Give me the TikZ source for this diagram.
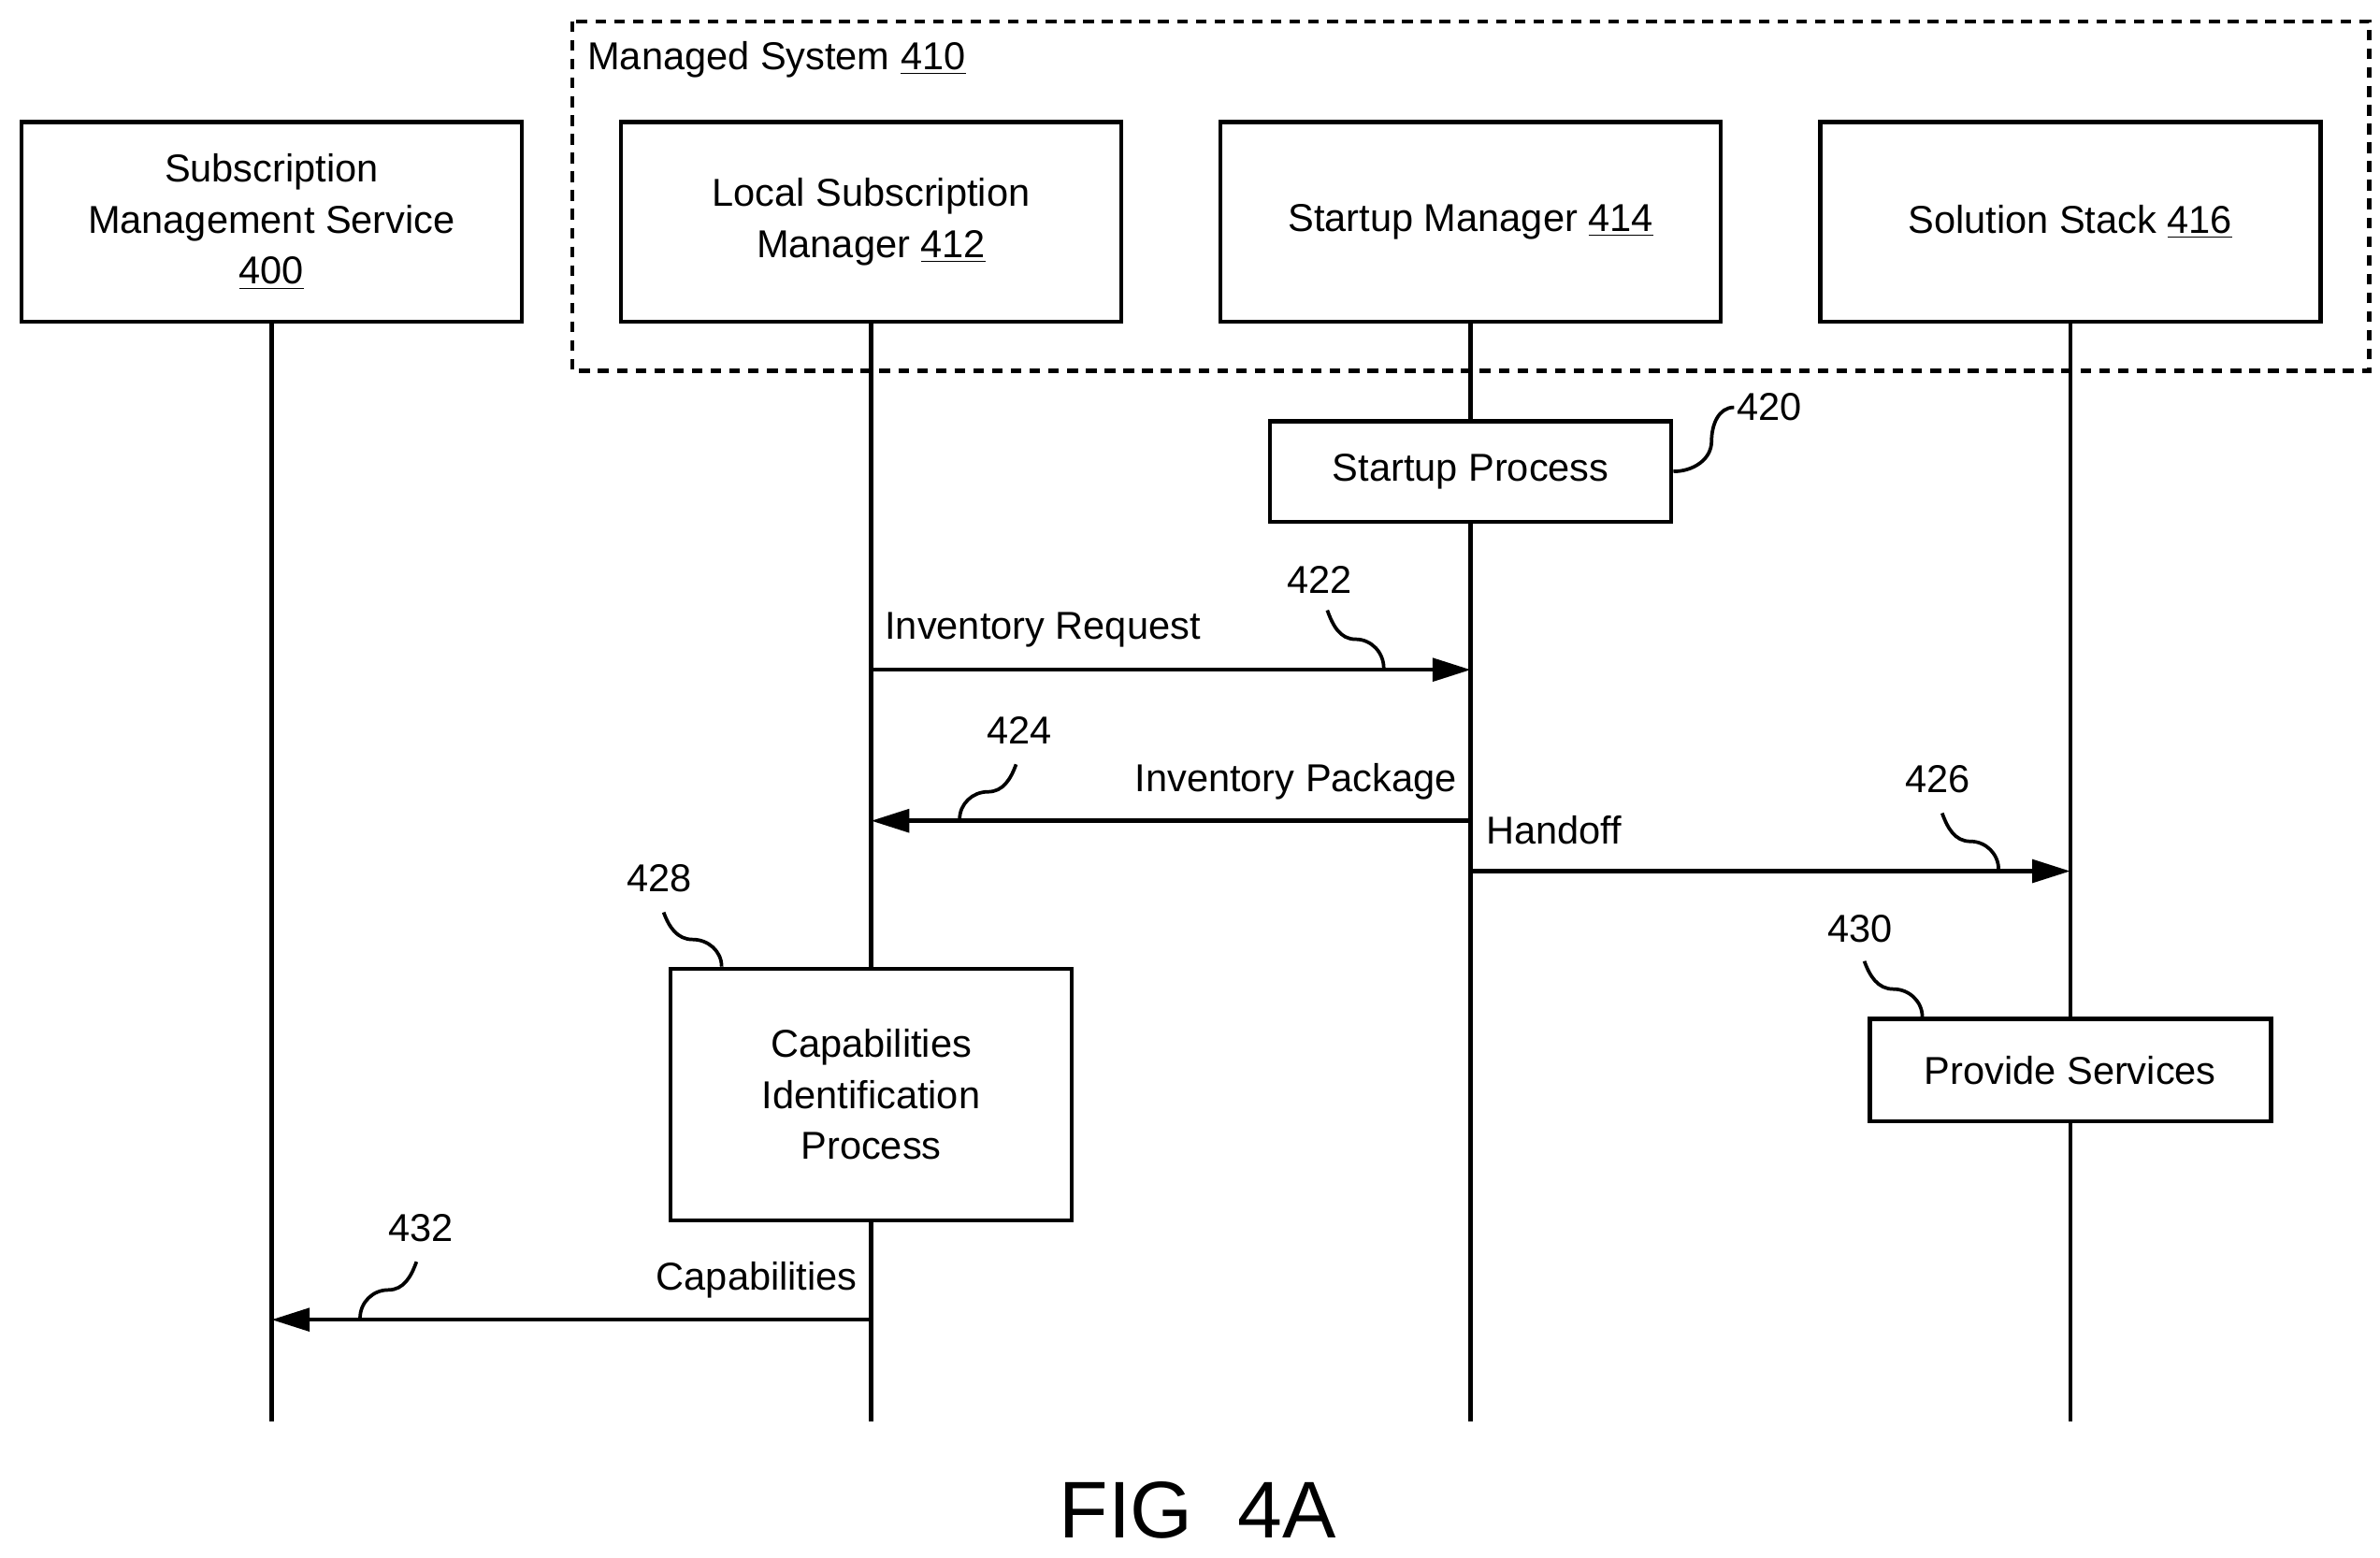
\documentclass[tikz,border=0pt]{standalone}
\usepackage{fontspec}
\setmainfont{Liberation Sans}
\usetikzlibrary{arrows.meta,positioning,calc}

\tikzset{
  actor/.style={draw, line width=1.6pt, minimum width=6.56cm, minimum height=2.62cm, align=center, font=\fontsize{14.5}{19}\selectfont},
  proc/.style={draw, line width=1.6pt, minimum width=5.26cm, align=center, font=\fontsize{14.5}{19}\selectfont},
  life/.style={line width=1.6pt},
  msg/.style={line width=1.6pt, -{Triangle[length=0.5cm,width=0.3cm]}},
  lbl/.style={font=\fontsize{14.5}{16}\selectfont, inner sep=1pt},
  lead/.style={line width=1.3pt}
}
% S-shaped leader, right-going and left-going
\newcommand{\leadr}[2]{\draw[lead] (#1) to[out=-70,in=180] ($(#1)!0.5!(#2)$) to[out=0,in=90] (#2);}
\newcommand{\leadl}[2]{\draw[lead] (#1) to[out=-110,in=0] ($(#1)!0.5!(#2)$) to[out=180,in=90] (#2);}

\begin{document}
\begin{tikzpicture}[x=0.02cm,y=-0.02cm]
  \useasboundingbox (0,0) rectangle (1560,1020.6);

  % managed system
  \draw[line width=1.5pt, dash pattern=on 4pt off 3pt] (375,14) rectangle (1553,243);
  \node[lbl, anchor=west] (ms) at (383,39) {Managed System \underline{410}};

  % actors
  \node[actor] (sms) at (178,145.5) {Subscription\\Management Service\\\underline{400}};
  \node[actor] (lsm) at (571,145.5) {Local Subscription\\Manager \underline{412}};
  \node[actor] (stm) at (964,145.5) {Startup Manager \underline{414}};
  \node[actor] (sst) at (1357,145.5) {Solution Stack \underline{416}};

  % lifelines
  \foreach \a in {sms,lsm,stm,sst}
    \coordinate (\a-end) at (\a.south |- 0,932);
  \foreach \a in {sms,lsm,stm,sst}
    \draw[life] (\a.south) -- (\a-end);

  % processes
  \node[proc, fill=white, minimum height=1.32cm] (start) at (964,309) {Startup Process};
  \node[proc, fill=white, minimum height=3.3cm] (capid) at (571,717.5) {Capabilities\\Identification\\Process};
  \node[proc, fill=white, minimum height=1.34cm] (prov) at (1357,701.5) {Provide Services};

  % messages
  \coordinate (req-a) at (571,439);  \coordinate (req-b) at (964,439);
  \coordinate (pkg-a) at (964,538);  \coordinate (pkg-b) at (571,538);
  \coordinate (hnd-a) at (964,571);  \coordinate (hnd-b) at (1357,571);
  \coordinate (cap-a) at (571,865);  \coordinate (cap-b) at (178,865);
  \draw[msg] (req-a) -- (req-b);
  \draw[msg] (pkg-a) -- (pkg-b);
  \draw[msg] (hnd-a) -- (hnd-b);
  \draw[msg] (cap-a) -- (cap-b);
  \node[lbl, anchor=west] (reqt) at (578,413) {Inventory Request};
  \node[lbl, anchor=east] (pkgt) at (957,512) {Inventory Package};
  \node[lbl, anchor=west] (hndt) at (972,544) {Handoff};
  \node[lbl, anchor=east] (capt) at (564,839) {Capabilities};

  % reference numerals
  \node[lbl] (n420) at (1160,267) {420};
  \node[lbl] (n422) at (865,380) {422};
  \node[lbl] (n424) at (668,479) {424};
  \node[lbl] (n426) at (1270,511) {426};
  \node[lbl] (n428) at (432,576) {428};
  \node[lbl] (n430) at (1219,609) {430};
  \node[lbl] (n432) at (276,805) {432};
  \draw[lead] (start.east) to[out=0,in=-90] ++(25,-20) to[out=90,in=180] (n420.west);
  \coordinate (l422a) at (870,400); \coordinate (l422b) at (907,438);
  \coordinate (l424a) at (666,501); \coordinate (l424b) at (629,537);
  \coordinate (l426a) at (1273,533); \coordinate (l426b) at (1310,570);
  \coordinate (l428a) at (435,598); \coordinate (l430a) at (1222,630);
  \coordinate (l432a) at (273,827); \coordinate (l432b) at (236,864);
  \leadr{l422a}{l422b}
  \leadl{l424a}{l424b}
  \leadr{l426a}{l426b}
  \leadr{l428a}{capid.north west -| 473,0}
  \leadr{l430a}{prov.north west -| 1260,0}
  \leadl{l432a}{l432b}

  \node[font=\fontsize{30}{34}\selectfont] (fig) at (785,990) {FIG\ \ 4A};
\end{tikzpicture}
\end{document}
